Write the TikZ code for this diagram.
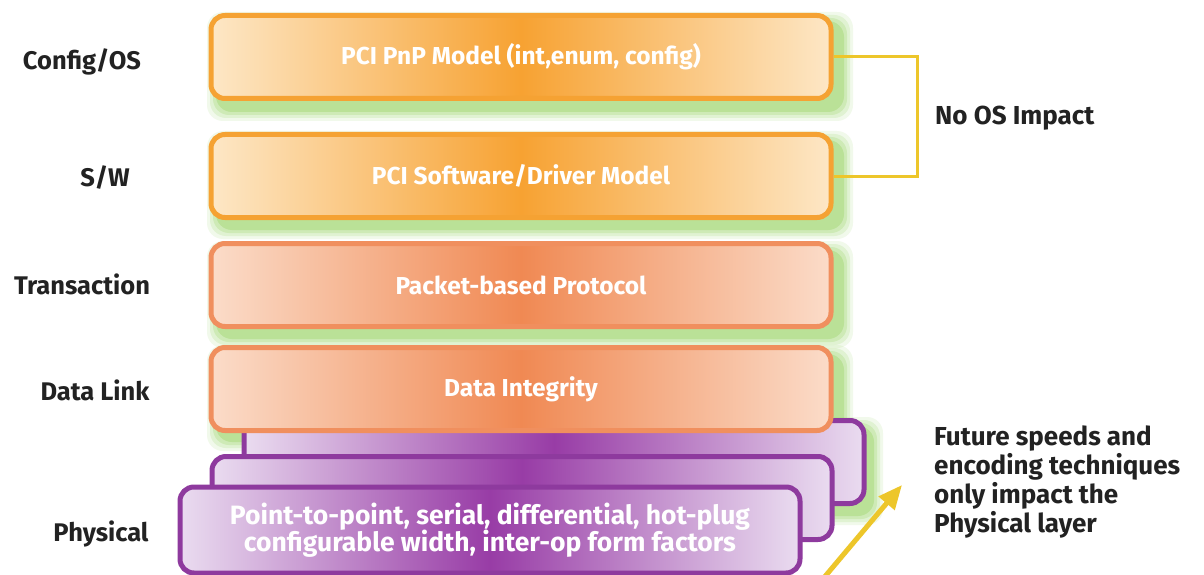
\documentclass[tikz,border=0pt]{standalone}
\usepackage{fontspec}
\setmainfont{Fira Sans}
\usetikzlibrary{arrows.meta}

\definecolor{osline}{HTML}{F5A233}
\definecolor{osmid}{HTML}{F7A232}
\definecolor{oslight}{HTML}{FDE7C6}
\definecolor{lkline}{HTML}{F08F5E}
\definecolor{lkmid}{HTML}{F08953}
\definecolor{lklight}{HTML}{FBDCC9}
\definecolor{phline}{HTML}{8E3A9E}
\definecolor{phmid}{HTML}{983CA6}
\definecolor{phlight}{HTML}{EADCF0}
\definecolor{glowgreen}{HTML}{7FC83C}
\definecolor{noteyellow}{HTML}{EDC62A}
\definecolor{labelink}{HTML}{222222}

% soft green halo offset to the lower right of a box: x1 y1 x2 y2
\newcommand\greenglow[4]{%
  \foreach \r/\o in {12/0.10,9/0.14,6/0.18,3/0.25}{%
    \fill[glowgreen, opacity=\o, rounded corners=16]
      (#1+9-\r,#2+9-\r) rectangle (#3+9+\r,#4+9+\r);}}

\tikzset{
  layer/.style={draw, line width=5pt, rounded corners=14pt,
    minimum width=620pt, minimum height=83pt, inner sep=0pt,
    text=white, align=center,
    font=\bfseries\fontsize{24.5}{28}\selectfont},
  oslayer/.style={layer, draw=osline, left color=oslight, right color=oslight, middle color=osmid},
  lklayer/.style={layer, draw=lkline, left color=lklight, right color=lklight, middle color=lkmid},
  phlayer/.style={layer, draw=phline, left color=phlight, right color=phlight, middle color=phmid},
  lab/.style={text=labelink, font=\bfseries\fontsize{25.5}{28}\selectfont, inner sep=0pt},
  note/.style={text=labelink, font=\bfseries\fontsize{26}{29}\selectfont, align=left, inner sep=0pt},
  bracket/.style={draw=noteyellow, line width=3pt},
  pointer/.style={draw=noteyellow, line width=5pt, -{Triangle[length=24pt,width=20pt]}}
}

\begin{document}
\begin{tikzpicture}[x=1pt, y=-1pt]
\useasboundingbox (0,0) rectangle (1204,575);
\clip (0,0) rectangle (1204,575);
\fill[white] (0,0) rectangle (1204,575);

% halos
\greenglow{210}{15}{832}{100}
\greenglow{210}{134}{832}{218}
\greenglow{210}{244}{832}{327}
\greenglow{210}{348}{832}{430}
\greenglow{246}{420}{862}{504}

% physical layer stack (back to front)
\node[phlayer] (ph3) at (554,462) {};
\node[phlayer] (ph2) at (522,498) {};
\node[phlayer, minimum height=86pt, font=\bfseries\fontsize{26.5}{28}\selectfont] (ph1) at (490,530)
  {Point-to-point, serial, differential, hot-plug\\[-1pt]configurable width, inter-op form factors};

% upper layers
\node[oslayer] (pnp) at (521,57) {PCI PnP Model (int,enum, config)};
\node[oslayer] (sw)  at (521,176) {PCI Software/Driver Model};
\node[lklayer] (tr)  at (521,285) {Packet-based Protocol};
\node[lklayer] (dl)  at (521,389) {Data Integrity};

% layer names
\node[lab] (lcfg) at (82,62)  {Config/OS};
\node[lab] (lsw)  at (105,178) {S/W};
\node[lab] (ltr)  at (82,284) {Transaction};
\node[lab] (ldl)  at (95,390) {Data Link};
\node[lab] (lph)  at (101,534) {Physical};

% OS bracket
\coordinate (bk) at (917,57);
\draw[bracket] (pnp.east) -- (bk) |- (sw.east);
\node[note, anchor=west] (noos) at (935,118) {No OS Impact};

% physical-layer note
\node[note, anchor=north west] (fut) at (934,426)
  {Future speeds and\\encoding techniques\\only impact the\\Physical layer};
\coordinate (ptail) at (822,580);
\coordinate (ptip) at (902,485);
\draw[pointer] (ptail) -- (ptip);
\end{tikzpicture}
\end{document}
